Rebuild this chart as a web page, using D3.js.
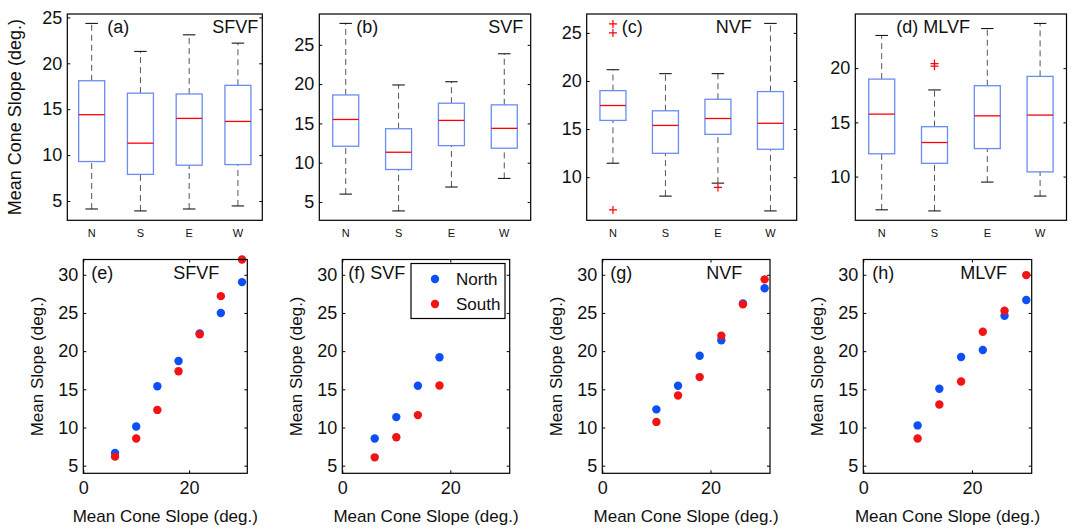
<!DOCTYPE html>
<html>
<head>
<meta charset="utf-8">
<script src="https://cdn.jsdelivr.net/npm/d3@7"></script>
<style>
  body { margin: 0; background: #fff; }
  svg { font-family: "Liberation Sans", Arial, sans-serif; }
</style>
</head>
<body>
<svg id="chart" width="1073" height="529"></svg>
<script>
// ---- data ----
const directions = ["N", "S", "E", "W"];

// box stats per direction: [lower whisker, q1, median, q3, upper whisker]
const boxSFVF = [[4.13, 9.3, 14.4, 18.1, 24.35], [3.92, 7.9, 11.3, 16.75, 21.3], [4.13, 8.9, 14.0, 16.66, 23.1], [4.46, 8.97, 13.67, 17.6, 22.2]];
const boxSVF = [[6.0, 12.09, 15.5, 18.62, 27.73], [3.86, 9.13, 11.33, 14.32, 19.89], [6.9, 12.17, 15.38, 17.57, 20.3], [8.0, 11.84, 14.37, 17.36, 23.86]];
const boxNVF = [[11.45, 15.9, 17.45, 19.0, 21.17], [8.03, 12.48, 15.38, 16.9, 20.76], [9.38, 14.45, 16.1, 18.1, 20.76], [6.49, 12.9, 15.6, 18.9, 25.99]];
const boxMLVF = [[6.93, 12.1, 15.76, 18.99, 23.02], [6.83, 11.22, 13.14, 14.6, 17.99], [9.49, 12.58, 15.6, 18.38, 23.65], [8.2, 10.43, 15.67, 19.24, 24.13]];

// outliers per direction
const outSFVF = [[], [], [], []];
const outSVF = [[], [], [], []];
const outNVF = [[25.93, 25.0, 6.59], [], [8.93], []];
const outMLVF = [[], [20.42, 20.18], [], []];

const tickSFVF = [5, 10, 15, 20, 25];
const tickSVF = [5, 10, 15, 20, 25];
const tickNVF = [10, 15, 20, 25];
const tickMLVF = [10, 15, 20];

// scatter: mean cone slope classes vs mean slope
const coneSFVF = [6, 10, 14, 18, 22, 26, 30];
const northSFVF = [6.67, 10.13, 15.4, 18.7, 22.3, 25.0, 29.04];
const southSFVF = [6.18, 8.55, 12.3, 17.37, 22.2, 27.2, 32.0];

const coneSVF = [6, 10, 14, 18];
const northSVF = [8.55, 11.36, 15.46, 19.19];
const southSVF = [6.09, 8.72, 11.62, 15.5];

const coneNVF = [10, 14, 18, 22, 26, 30];
const northNVF = [12.37, 15.47, 19.4, 21.42, 26.25, 28.23];
const southNVF = [10.73, 14.18, 16.6, 22.03, 26.12, 29.4];

const coneMLVF = [10, 14, 18, 22, 26, 30];
const northMLVF = [10.27, 15.08, 19.24, 20.14, 24.64, 26.7];
const southMLVF = [8.56, 13.02, 16.02, 22.54, 25.28, 29.96];

const scatterYTicks = [5, 10, 15, 20, 25, 30];
const scatterXTicks = [0, 20, 40];
const legendLabels = ["North", "South"];

// ---- layout ----
const svg = d3.select("#chart");
const FONT = 18;
const BLUE = "#0d4ff7", RED = "#f21414";

function frame(g, w, h) {
  g.append("rect").attr("width", w).attr("height", h)
    .attr("fill", "none").attr("stroke", "#000").attr("stroke-width", 1.2);
}

function styleAxis(a) {
  a.select(".domain").remove();
  a.selectAll(".tick line").attr("stroke", "#000");
  a.selectAll(".tick text").attr("fill", "#111");
}

function boxPanel(p) {
  const w = p.x1 - p.x0, h = p.y1 - p.y0;
  const g = svg.append("g").attr("transform", `translate(${p.x0},${p.y0})`);
  const all = p.stats.flat().concat(p.outliers.flat());
  const lo = d3.min(all), hi = d3.max(all), pad = (hi - lo) * 0.05;
  const y = d3.scaleLinear([lo - pad, hi + pad], [h, 0]);
  const x = d3.scaleLinear([0.5, 4.5], [0, w]);

  const ax = g.append("g").call(d3.axisLeft(y).tickValues(p.ticks).tickSize(-3).tickPadding(5))
    .attr("font-size", FONT).attr("font-family", null);
  styleAxis(ax);
  const ar = g.append("g").attr("transform", `translate(${w},0)`)
    .call(d3.axisRight(y).tickValues(p.ticks).tickSize(-3).tickFormat(""));
  styleAxis(ar);

  const bw = 26, cw = 12.5;
  const b = g.selectAll("g.box").data(p.stats).join("g").attr("class", "box")
    .attr("transform", (d, i) => `translate(${x(i + 1)},0)`);
  b.append("line").attr("y1", d => y(d[0])).attr("y2", d => y(d[1]))
    .attr("stroke", "#555").attr("stroke-dasharray", "6,4");
  b.append("line").attr("y1", d => y(d[3])).attr("y2", d => y(d[4]))
    .attr("stroke", "#555").attr("stroke-dasharray", "6,4");
  b.append("line").attr("x1", -cw / 2).attr("x2", cw / 2)
    .attr("y1", d => y(d[0])).attr("y2", d => y(d[0])).attr("stroke", "#000");
  b.append("line").attr("x1", -cw / 2).attr("x2", cw / 2)
    .attr("y1", d => y(d[4])).attr("y2", d => y(d[4])).attr("stroke", "#000");
  b.append("rect").attr("x", -bw / 2).attr("width", bw)
    .attr("y", d => y(d[3])).attr("height", d => y(d[1]) - y(d[3]))
    .attr("fill", "none").attr("stroke", "#6a8cf3").attr("stroke-width", 1.3);
  b.append("line").attr("x1", -bw / 2).attr("x2", bw / 2)
    .attr("y1", d => y(d[2])).attr("y2", d => y(d[2]))
    .attr("stroke", "#f00").attr("stroke-width", 1.3);

  // outliers as red plus signs
  p.outliers.forEach((arr, i) => {
    g.selectAll(null).data(arr).join("path")
      .attr("d", d => `M${x(i + 1) - 4},${y(d)}h8M${x(i + 1)},${y(d) - 4}v8`)
      .attr("stroke", "#f00").attr("stroke-width", 1.2);
  });

  g.selectAll("text.cat").data(directions).join("text").attr("class", "cat")
    .attr("x", (d, i) => x(i + 1)).attr("y", h + 17)
    .attr("text-anchor", "middle").attr("font-size", 11).attr("fill", "#111")
    .text(d => d);

  frame(g, w, h);

  p.notes.forEach(n => {
    g.append("text").attr("x", n.x).attr("y", n.y).attr("text-anchor", n.anchor || "start")
      .attr("font-size", FONT).attr("fill", "#111").text(n.t);
  });
  if (p.ylabel) {
    svg.append("text").attr("transform", `translate(${p.x0 - 46},${p.y0 + h / 2}) rotate(-90)`)
      .attr("text-anchor", "middle").attr("font-size", 18).attr("fill", "#111").text(p.ylabel);
  }
}

function scatterPanel(p) {
  const w = p.x1 - p.x0, h = p.y1 - p.y0;
  const g = svg.append("g").attr("transform", `translate(${p.x0},${p.y0})`);
  const x = d3.scaleLinear([0, 31], [0, w]);
  const y = d3.scaleLinear([4, 32], [h, 0]);

  const ax = g.append("g").call(d3.axisLeft(y).tickValues(scatterYTicks).tickSize(-3).tickPadding(5))
    .attr("font-size", FONT).attr("font-family", null);
  styleAxis(ax);
  styleAxis(g.append("g").attr("transform", `translate(${w},0)`)
    .call(d3.axisRight(y).tickValues(scatterYTicks).tickSize(-3).tickFormat("")));
  const xt = scatterXTicks.filter(v => v <= 31);
  const bx = g.append("g").attr("transform", `translate(0,${h})`)
    .call(d3.axisBottom(x).tickValues(xt).tickSize(-3).tickPadding(8))
    .attr("font-size", FONT).attr("font-family", null);
  styleAxis(bx);
  styleAxis(g.append("g").call(d3.axisTop(x).tickValues(xt).tickSize(-3).tickFormat("")));

  const pts = [];
  p.cone.forEach((c, i) => {
    pts.push({ x: c, y: p.north[i], c: BLUE });
  });
  p.cone.forEach((c, i) => {
    pts.push({ x: c, y: p.south[i], c: RED });
  });
  g.selectAll("circle").data(pts).join("circle")
    .attr("cx", d => x(d.x)).attr("cy", d => y(d.y)).attr("r", 4.2)
    .attr("fill", d => d.c);

  frame(g, w, h);

  p.notes.forEach(n => {
    g.append("text").attr("x", n.x).attr("y", n.y).attr("font-size", FONT)
      .attr("fill", "#111").text(n.t);
  });

  svg.append("text").attr("transform", `translate(${p.x0 - 40},${p.y0 + h / 2}) rotate(-90)`)
    .attr("text-anchor", "middle").attr("font-size", 17).attr("fill", "#111")
    .text("Mean Slope (deg.)");
  svg.append("text").attr("x", p.x0 + w / 2).attr("y", p.y1 + 49)
    .attr("text-anchor", "middle").attr("font-size", 17).attr("fill", "#111")
    .text("Mean Cone Slope (deg.)");

  if (p.legend) {
    const lg = g.append("g").attr("transform", `translate(${411 - p.x0},${263.5 - p.y0})`);
    lg.append("rect").attr("width", 94).attr("height", 55)
      .attr("fill", "#fff").attr("stroke", "#000").attr("stroke-width", 1.2);
    const items = lg.selectAll("g").data(legendLabels).join("g")
      .attr("transform", (d, i) => `translate(0,${15.5 + i * 25})`);
    items.append("circle").attr("cx", 24).attr("r", 4.2).attr("fill", (d, i) => i ? RED : BLUE);
    items.append("text").attr("x", 45).attr("dy", "0.36em").attr("font-size", 17)
      .attr("fill", "#111").text(d => d);
  }
}

const TOP0 = 14, TOP1 = 220.3, BOT0 = 259.5, BOT1 = 473.3;

boxPanel({ x0: 67.3, x1: 262.3, y0: TOP0, y1: TOP1, stats: boxSFVF, outliers: outSFVF, ticks: tickSFVF,
  ylabel: "Mean Cone Slope (deg.)",
  notes: [{ t: "(a)", x: 40, y: 19 }, { t: "SFVF", x: 191, y: 19, anchor: "end" }] });
boxPanel({ x0: 319.3, x1: 530.7, y0: TOP0, y1: TOP1, stats: boxSVF, outliers: outSVF, ticks: tickSVF,
  notes: [{ t: "(b)", x: 37, y: 19 }, { t: "SVF", x: 204, y: 19, anchor: "end" }] });
boxPanel({ x0: 586.7, x1: 796.7, y0: TOP0, y1: TOP1, stats: boxNVF, outliers: outNVF, ticks: tickNVF,
  notes: [{ t: "(c)", x: 35, y: 19 }, { t: "NVF", x: 129, y: 19 }] });
boxPanel({ x0: 855.3, x1: 1066.5, y0: TOP0, y1: TOP1, stats: boxMLVF, outliers: outMLVF, ticks: tickMLVF,
  notes: [{ t: "(d)  MLVF", x: 41, y: 19 }] });

scatterPanel({ x0: 83.3, x1: 247.3, y0: BOT0, y1: BOT1, cone: coneSFVF, north: northSFVF, south: southSFVF,
  notes: [{ t: "(e)", x: 8, y: 19 }, { t: "SFVF", x: 90, y: 19 }] });
scatterPanel({ x0: 342.3, x1: 509.7, y0: BOT0, y1: BOT1, cone: coneSVF, north: northSVF, south: southSVF,
  legend: true, notes: [{ t: "(f) SVF", x: 6, y: 19 }] });
scatterPanel({ x0: 602.3, x1: 770, y0: BOT0, y1: BOT1, cone: coneNVF, north: northNVF, south: southNVF,
  notes: [{ t: "(g)", x: 8, y: 19 }, { t: "NVF", x: 104, y: 19 }] });
scatterPanel({ x0: 863.3, x1: 1031.7, y0: BOT0, y1: BOT1, cone: coneMLVF, north: northMLVF, south: southMLVF,
  notes: [{ t: "(h)", x: 9, y: 19 }, { t: "MLVF", x: 97, y: 19 }] });
</script>
</body>
</html>
